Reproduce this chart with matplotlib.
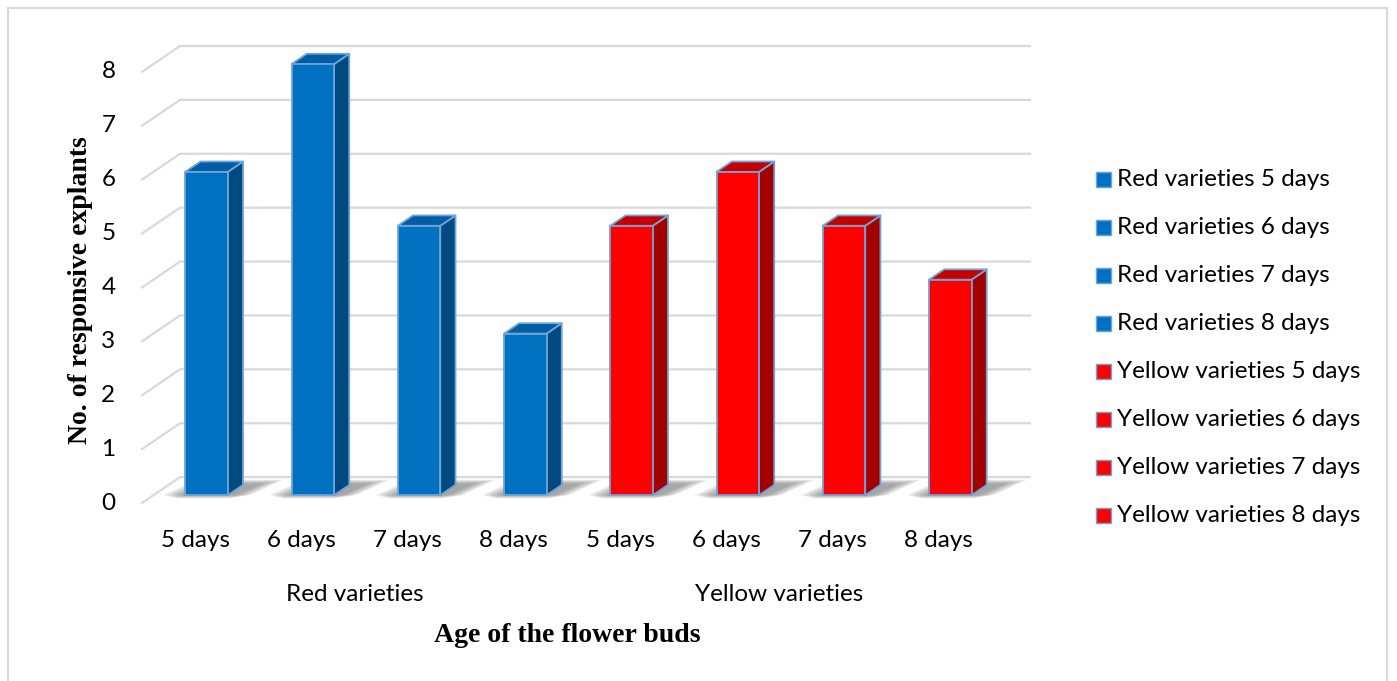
import matplotlib
matplotlib.use("Agg")
import matplotlib.pyplot as plt
from matplotlib.patches import Polygon, Rectangle

plt.rcParams['font.family'] = ['Lato', 'DejaVu Sans']

# data
groups = ["Red varieties", "Yellow varieties"]
days = ["5 days", "6 days", "7 days", "8 days"]
red_values = [6, 8, 5, 3]
yellow_values = [5, 6, 5, 4]
y_ticks = [0, 1, 2, 3, 4, 5, 6, 7, 8]

labels = [f"{g} {d}" for g in groups for d in days]
values = red_values + yellow_values
cat_labels = days + days

# face colours: front, side, top
blue = ("#0070C0", "#004A80", "#005DA3")
red = ("#FF0000", "#A30000", "#C40000")
edge = "#6FA3D9"
face_sets = [blue] * 4 + [red] * 4

# oblique projection of the depth axis
DX, DY = 0.358, 0.48
ZF, ZB = 0.30, 0.70
BW = 0.40


def proj(x, y, z):
    return (x + z * DX, y + z * DY)


fig = plt.figure(figsize=(13.97, 6.81), dpi=100)
fig.patches.append(Rectangle((8 / 1397, -0.05), 1379 / 1397, 1 - 8 / 681 + 0.05,
                             transform=fig.transFigure, fill=False,
                             edgecolor="#D9D9D9", lw=1.5))

ax = fig.add_axes([142 / 1397, 1 - 503 / 681, 888 / 1397, 457 / 681])
n = len(values)
ax.set_xlim(0, n + DX)
ax.set_ylim(0, y_ticks[-1] + DY)
ax.axis("off")

# gridlines: diagonal on the side wall, then along the back wall
for v in y_ticks:
    xs = [0, DX, n + DX]
    ys = [v, v + DY, v + DY]
    ax.plot(xs, ys, color="#D9D9D9", lw=1.6, zorder=1, clip_on=False)
    ax.text(-0.25, v, str(v), ha="right", va="center", fontsize=17.5, color="#000000")

# soft shadows on the floor
for i in range(n):
    x0 = i + 0.5 - BW / 2
    x1 = x0 + BW
    for k in range(7):
        g = 0.025 * k
        pts = [proj(x0 - 0.06 - g, 0, ZF - 0.12 + g * 0.8),
               proj(x1 + 0.06 + g, 0, ZF - 0.12 + g * 0.8),
               proj(x1 + 0.16 + g, 0, ZB + 0.05 + g),
               proj(x0 + 0.04 - g, 0, ZB + 0.05 + g)]
        ax.add_patch(Polygon(pts, closed=True, facecolor="#5F5F5F",
                             edgecolor="none", alpha=0.10, zorder=2))

# bars
for i, (v, fc) in enumerate(zip(values, face_sets)):
    x0 = i + 0.5 - BW / 2
    x1 = x0 + BW
    front = [proj(x0, 0, ZF), proj(x1, 0, ZF), proj(x1, v, ZF), proj(x0, v, ZF)]
    side = [proj(x1, 0, ZF), proj(x1, 0, ZB), proj(x1, v, ZB), proj(x1, v, ZF)]
    top = [proj(x0, v, ZF), proj(x1, v, ZF), proj(x1, v, ZB), proj(x0, v, ZB)]
    for pts, c in ((side, fc[1]), (top, fc[2]), (front, fc[0])):
        ax.add_patch(Polygon(pts, closed=True, facecolor=c, edgecolor=edge,
                             lw=1.3, joinstyle="round", zorder=3))

# category and group labels
for i, lab in enumerate(cat_labels):
    ax.text(i + 0.5, -0.705, lab, ha="center", va="center", fontsize=17.5)
for g, name in enumerate(groups):
    ax.text(g * 4 + 2, -1.69, name, ha="center", va="center", fontsize=17.5)

fig.text(567 / 1397, 1 - 636 / 681, "Age of the flower buds", ha="center", va="center",
         fontsize=20, fontweight="bold", family="Liberation Serif")
fig.text(81 / 1397, 1 - 290 / 681, "No. of responsive explants", ha="center", va="center",
         rotation=90, fontsize=20, fontweight="bold", family="Liberation Serif")

# legend
for j, (lab, fc) in enumerate(zip(labels, face_sets)):
    yc = 179 + j * 48.1
    fig.patches.append(Rectangle((1096 / 1397, 1 - (yc + 7.5) / 681), 15 / 1397, 15 / 681,
                                 transform=fig.transFigure, facecolor=fc[0],
                                 edgecolor=edge, lw=1.0))
    fig.text(1117 / 1397, 1 - yc / 681, lab, ha="left", va="center", fontsize=17.5)

fig.savefig("out.png", dpi=100)
